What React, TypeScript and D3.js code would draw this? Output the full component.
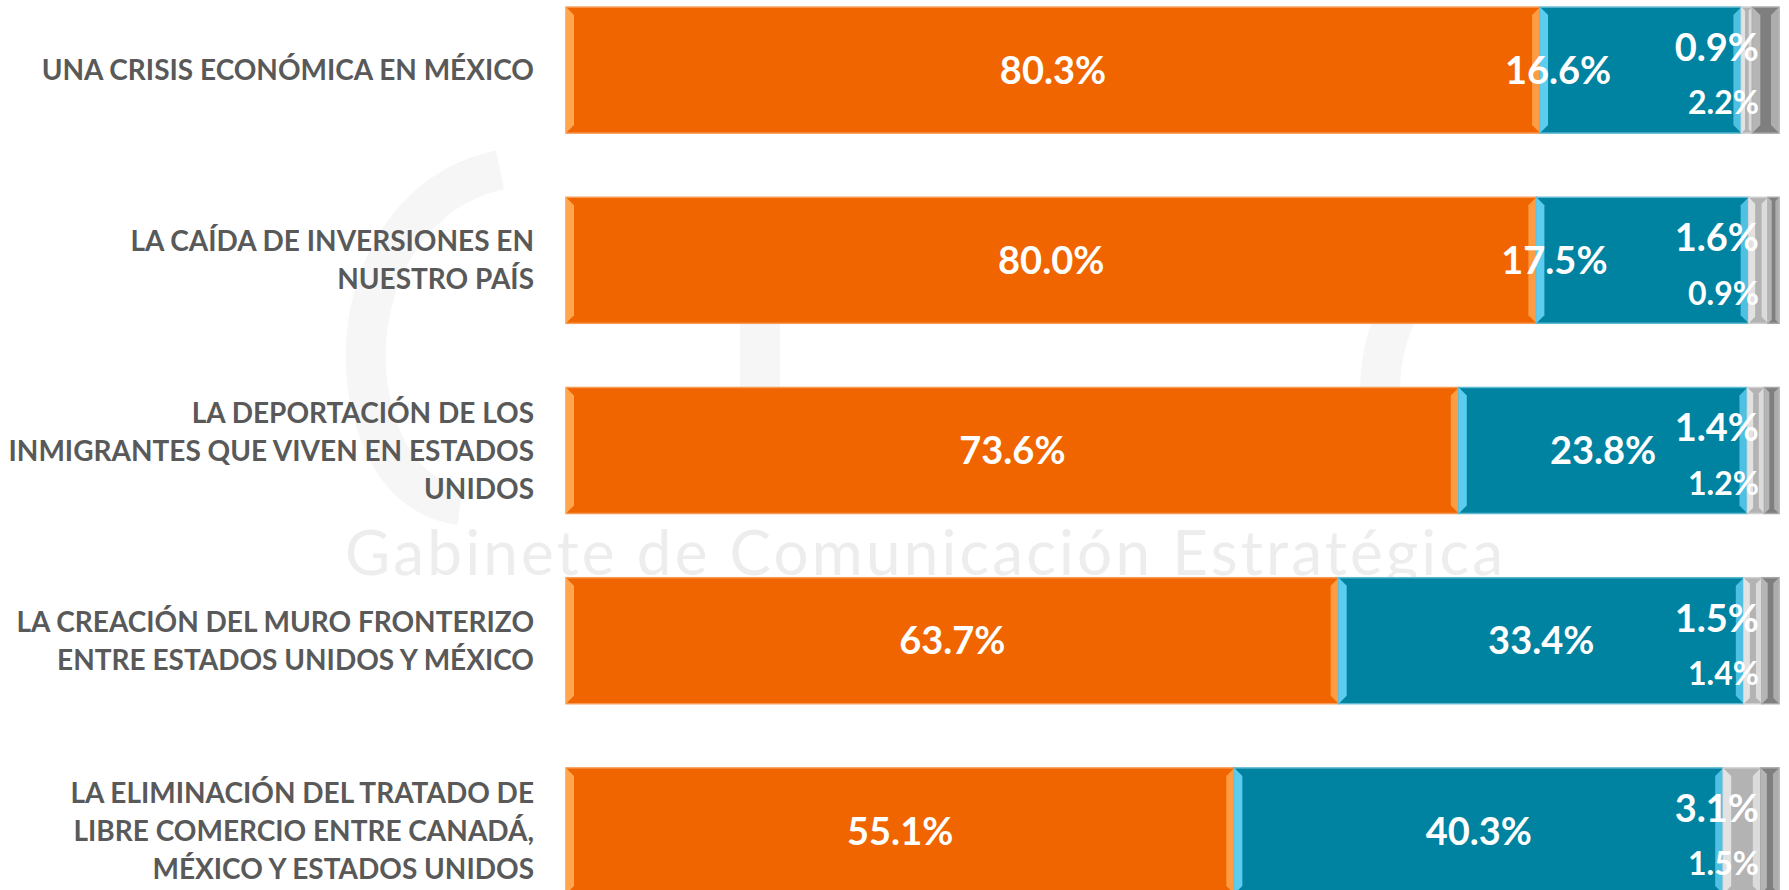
import * as d3 from 'd3'
import { useEffect, useRef } from 'react'

// categories (top to bottom), each split into the lines shown on the chart
const categories = [
  'UNA CRISIS ECONÓMICA EN MÉXICO',
  'LA CAÍDA DE INVERSIONES EN NUESTRO PAÍS',
  'LA DEPORTACIÓN DE LOS INMIGRANTES QUE VIVEN EN ESTADOS UNIDOS',
  'LA CREACIÓN DEL MURO FRONTERIZO ENTRE ESTADOS UNIDOS Y MÉXICO',
  'LA ELIMINACIÓN DEL TRATADO DE LIBRE COMERCIO ENTRE CANADÁ, MÉXICO Y ESTADOS UNIDOS',
]
const categoryLines = [
  ['UNA CRISIS ECONÓMICA EN MÉXICO'],
  ['LA CAÍDA DE INVERSIONES EN', 'NUESTRO PAÍS'],
  ['LA DEPORTACIÓN DE LOS', 'INMIGRANTES QUE VIVEN EN ESTADOS', 'UNIDOS'],
  ['LA CREACIÓN DEL MURO FRONTERIZO', 'ENTRE ESTADOS UNIDOS Y MÉXICO'],
  ['LA ELIMINACIÓN DEL TRATADO DE', 'LIBRE COMERCIO ENTRE CANADÁ,', 'MÉXICO Y ESTADOS UNIDOS'],
]

const seriesNames = ['Sí', 'No', 'No sabe', 'No contestó']
const si = [80.3, 80.0, 73.6, 63.7, 55.1]
const no = [16.6, 17.5, 23.8, 33.4, 40.3]
const noSabe = [0.9, 1.6, 1.4, 1.5, 3.1]
const noContesto = [2.2, 0.9, 1.2, 1.4, 1.5]

const fills = ['#f06500', '#0083a0', '#b3b3b3', '#7f7f7f']
const bevels = ['#ffa64f', '#5ccdee', '#e2e2e2', '#b5b5b5']
const edges = ['#f79a55', '#5fb8d2', '#cfcfcf', '#a6a6a6']

const W = 1789
const H = 890

export default function App() {
  const ref = useRef<SVGSVGElement>(null)

  useEffect(() => {
    document.body.style.margin = '0'
    const svg = d3.select(ref.current)
    svg.selectAll('*').remove()
    svg.attr('width', W).attr('height', H)

    const x = d3.scaleLinear().domain([0, 100]).range([566, 1779])
    const y = d3.scaleBand<string>()
      .domain(categories)
      .range([-25, 926])
      .paddingInner(0.3375)
      .paddingOuter(0.16875)

    // faint watermark behind the bars
    const wm = svg.append('g').attr('fill', 'none').attr('stroke', '#f6f6f6').attr('stroke-width', 40)
    wm.append('path').attr('d', 'M500,170 C400,190 350,300 370,400 C385,470 420,500 460,505')
    wm.append('path').attr('d', 'M760,260 L760,470 L950,470')
    wm.append('path').attr('d', 'M1480,270 C1420,250 1380,320 1380,390 C1380,460 1420,500 1480,490')
    svg.append('text')
      .attr('x', 345).attr('y', 575)
      .attr('textLength', 1158)
      .attr('font-family', 'Lato, sans-serif')
      .attr('font-weight', 400)
      .attr('font-size', 62)
      .attr('fill', '#ededed')
      .text('Gabinete de  Comunicación  Estratégica')

    const rows = categories.map((c, i) => {
      const vals = [si[i], no[i], noSabe[i], noContesto[i]]
      let acc = 0
      return vals.map((v, k) => {
        const seg = { cat: c, k, v, x0: acc, x1: acc + v, row: i, name: seriesNames[k] }
        acc += v
        return seg
      })
    })
    const segs = rows.flat()

    const g = svg.append('g')
    const segG = g.selectAll('g.seg').data(segs).join('g').attr('class', 'seg')
    segG.append('rect')
      .attr('x', d => x(d.x0))
      .attr('y', d => y(d.cat)!)
      .attr('width', d => x(d.x1) - x(d.x0))
      .attr('height', y.bandwidth())
      .attr('fill', d => fills[d.k])
      .attr('stroke', d => edges[d.k])
      .attr('stroke-width', 1.5)
    const bw = (d: any) => Math.min(8, (x(d.x1) - x(d.x0)) / 3)
    // left bevel
    segG.append('path')
      .attr('fill', d => bevels[d.k])
      .attr('d', d => {
        const x0 = x(d.x0), y0 = y(d.cat)!, h = y.bandwidth(), b = bw(d)
        return `M${x0},${y0}L${x0 + b},${y0 + b}L${x0 + b},${y0 + h - b}L${x0},${y0 + h}Z`
      })
    // right bevel
    segG.append('path')
      .attr('fill', d => bevels[d.k])
      .attr('opacity', 0.85)
      .attr('d', d => {
        const x1 = x(d.x1), y0 = y(d.cat)!, h = y.bandwidth(), b = bw(d)
        return `M${x1},${y0}L${x1 - b},${y0 + b}L${x1 - b},${y0 + h - b}L${x1},${y0 + h}Z`
      })

    // value labels (narrow "No" segments get their label pulled left, clear of the small ones)
    const big = segs.filter(d => d.k < 2)
    g.selectAll('text.val').data(big).join('text')
      .attr('class', 'val')
      .attr('x', d => (d.k === 1 && d.v < 20 ? x(d.x0) + 18 : (x(d.x0) + x(d.x1)) / 2))
      .attr('y', d => y(d.cat)! + y.bandwidth() / 2)
      .attr('dy', '0.36em')
      .attr('text-anchor', 'middle')
      .attr('font-family', 'Lato, sans-serif')
      .attr('font-weight', 700)
      .attr('font-size', 38)
      .attr('fill', '#ffffff')
      .text(d => `${d.v.toFixed(1)}%`)

    const small = segs.filter(d => d.k >= 2)
    g.selectAll('text.small').data(small).join('text')
      .attr('class', 'small')
      .attr('x', x(100) - 20)
      .attr('y', d => y(d.cat)! + y.bandwidth() * (d.k === 2 ? 0.32 : 0.76))
      .attr('dy', '0.36em')
      .attr('text-anchor', 'end')
      .attr('font-family', 'Lato, sans-serif')
      .attr('font-weight', 700)
      .attr('font-size', d => (d.k === 2 ? 38 : 32))
      .attr('fill', '#ffffff')
      .text(d => `${d.v.toFixed(1)}%`)

    // category labels
    const lineH = 38
    const lab = g.selectAll('text.cat').data(categories).join('text')
      .attr('class', 'cat')
      .attr('text-anchor', 'end')
      .attr('font-family', 'Lato, sans-serif')
      .attr('font-weight', 700)
      .attr('font-size', 28)
      .attr('fill', '#595959')
    lab.each(function (c, i) {
      const lines = categoryLines[i]
      const cy = y(c)! + y.bandwidth() / 2
      const top = cy - ((lines.length - 1) * lineH) / 2
      d3.select(this).selectAll('tspan').data(lines).join('tspan')
        .attr('x', 534)
        .attr('y', (_, j) => top + j * lineH)
        .attr('dy', '0.36em')
        .text(l => l)
    })
  }, [])

  return <svg ref={ref} style={{ display: 'block' }} />
}
